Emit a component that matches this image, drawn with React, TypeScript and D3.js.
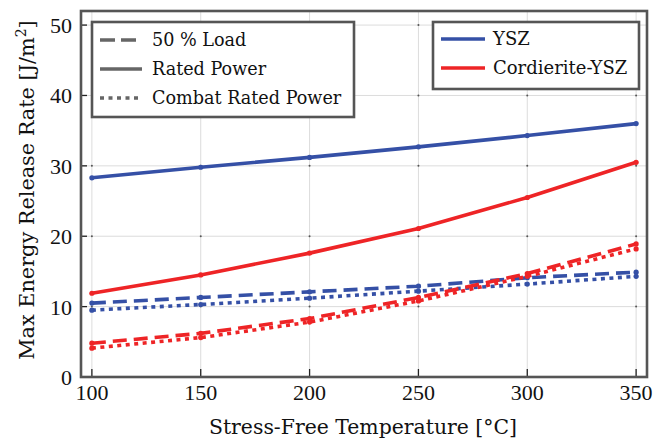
import React from "react";
import * as d3 from "d3";

const temps = [100, 150, 200, 250, 300, 350];
const yszRated = [28.3, 29.8, 31.2, 32.7, 34.3, 36.0];
const yszLoad50 = [10.5, 11.3, 12.1, 12.9, 14.1, 14.9];
const yszCombat = [9.5, 10.3, 11.2, 12.2, 13.2, 14.3];
const cordRated = [11.9, 14.5, 17.6, 21.1, 25.5, 30.5];
const cordLoad50 = [4.8, 6.2, 8.3, 11.3, 14.7, 18.9];
const cordCombat = [4.1, 5.6, 7.8, 10.8, 14.3, 18.2];
const xTicks = [100, 150, 200, 250, 300, 350];
const yTicks = [0, 10, 20, 30, 40, 50];
const styleLabels = ["50 % Load", "Rated Power", "Combat Rated Power"];
const materialLabels = ["YSZ", "Cordierite-YSZ"];

const BLUE = "#3550a6";
const RED = "#ee2426";
const FRAME = "#555555";
const TXT = "DejaVu Serif";
const NUM = "Liberation Serif";

const dashes: Record<string, string | undefined> = {
  solid: undefined,
  dashed: "14 7",
  dotted: "4 4.5",
};

const series = [
  { vals: yszRated, color: BLUE, style: "solid" },
  { vals: cordRated, color: RED, style: "solid" },
  { vals: yszLoad50, color: BLUE, style: "dashed" },
  { vals: yszCombat, color: BLUE, style: "dotted" },
  { vals: cordLoad50, color: RED, style: "dashed" },
  { vals: cordCombat, color: RED, style: "dotted" },
];

export default function App() {
  const W = 656, H = 443;
  const L = 81, R = 647, T = 11, B = 377;
  const x = d3.scaleLinear().domain([95, 355]).range([L, R]);
  const y = d3.scaleLinear().domain([0, 52]).range([B, T]);
  const line = d3
    .line<number>()
    .x((_, i) => x(temps[i]))
    .y((d) => y(d));

  const leftLegend = [
    { label: styleLabels[0], style: "dashed", cy: 40 },
    { label: styleLabels[1], style: "solid", cy: 69 },
    { label: styleLabels[2], style: "dotted", cy: 98 },
  ];
  const rightLegend = [
    { label: materialLabels[0], color: BLUE, cy: 39 },
    { label: materialLabels[1], color: RED, cy: 68 },
  ];

  return (
    <svg width={W} height={H} style={{ position: "absolute", left: 0, top: 0, background: "#fff" }}>
      <rect x={0} y={0} width={W} height={H} fill="#fff" />
      {/* grid */}
      {xTicks.map((t) => (
        <line key={"gx" + t} x1={x(t)} x2={x(t)} y1={T} y2={B} stroke="#dcdcdc" strokeWidth={1} />
      ))}
      {yTicks.map((t) => (
        <line key={"gy" + t} x1={L} x2={R} y1={y(t)} y2={y(t)} stroke="#dcdcdc" strokeWidth={1} />
      ))}
      {xTicks.map((tx) =>
        yTicks.map((ty) => (
          <circle key={"gd" + tx + "_" + ty} cx={x(tx)} cy={y(ty)} r={1} fill="#555" />
        ))
      )}
      {/* ticks and labels */}
      {xTicks.map((t) => (
        <g key={"tx" + t}>
          <line x1={x(t)} x2={x(t)} y1={B} y2={B - 8} stroke="#222" strokeWidth={1.3} />
          <text x={x(t)} y={B + 23} textAnchor="middle" style={{ fontFamily: NUM, fontSize: 22 }} fill="#111">
            {t}
          </text>
        </g>
      ))}
      {yTicks.map((t) => (
        <g key={"ty" + t}>
          <line x1={L} x2={L + 6} y1={y(t)} y2={y(t)} stroke="#222" strokeWidth={1.3} />
          <text x={L - 9} y={y(t) + 8} textAnchor="end" style={{ fontFamily: NUM, fontSize: 22 }} fill="#111">
            {t}
          </text>
        </g>
      ))}
      {/* series */}
      {series.map((s, i) => (
        <g key={"s" + i}>
          <path
            d={line(s.vals) || ""}
            fill="none"
            stroke={s.color}
            strokeWidth={3.6}
            strokeDasharray={dashes[s.style]}
          />
          {s.vals.map((v, j) => (
            <circle key={j} cx={x(temps[j])} cy={y(v)} r={2.6} fill={s.color} />
          ))}
        </g>
      ))}
      {/* frame */}
      <rect x={L} y={T} width={R - L} height={B - T} fill="none" stroke={FRAME} strokeWidth={2.6} />
      {/* left legend */}
      <rect x={92} y={22} width={262} height={95} fill="#fff" stroke={FRAME} strokeWidth={2.6} />
      {leftLegend.map((e) => (
        <g key={e.label}>
          <line
            x1={100}
            x2={142}
            y1={e.cy}
            y2={e.cy}
            stroke="#666"
            strokeWidth={3.6}
            strokeDasharray={e.style === "dashed" ? "15 6" : e.style === "dotted" ? "4 4.5" : undefined}
          />
          <text x={152} y={e.cy + 6} style={{ fontFamily: TXT, fontSize: 17.6 }} fill="#111">
            {e.label}
          </text>
        </g>
      ))}
      {/* right legend */}
      <rect x={433} y={22} width={206} height={67} fill="#fff" stroke={FRAME} strokeWidth={2.6} />
      {rightLegend.map((e) => (
        <g key={e.label}>
          <line x1={441} x2={485} y1={e.cy} y2={e.cy} stroke={e.color} strokeWidth={3.6} />
          <text x={493} y={e.cy + 6} style={{ fontFamily: TXT, fontSize: 18 }} fill="#111">
            {e.label}
          </text>
        </g>
      ))}
      {/* axis labels */}
      <text x={363} y={434} textAnchor="middle" style={{ fontFamily: TXT, fontSize: 20.4 }} fill="#111">
        Stress-Free Temperature [°C]
      </text>
      <text
        transform={`translate(34, 190) rotate(-90)`}
        textAnchor="middle"
        style={{ fontFamily: TXT, fontSize: 20.8 }}
        fill="#111"
      >
        Max Energy Release Rate [J/m
        <tspan dy={-8} style={{ fontSize: 14 }}>2</tspan>
        <tspan dy={8}>]</tspan>
      </text>
    </svg>
  );
}
